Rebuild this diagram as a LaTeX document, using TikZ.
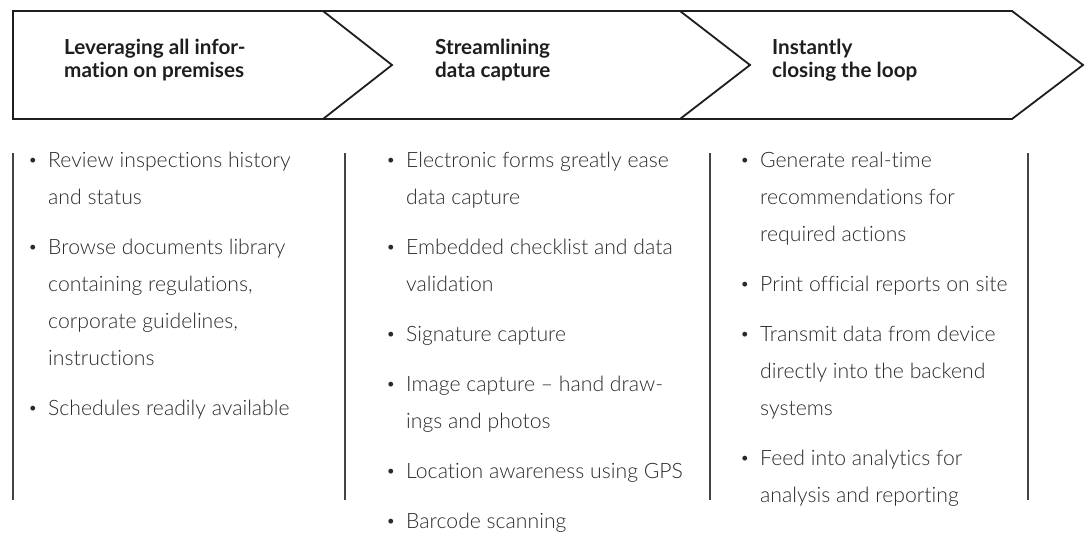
\documentclass[tikz,border=0pt]{standalone}
\usepackage{fontspec}
\setmainfont{Lato}[Ligatures={NoCommon}]
\newfontfamily\bodyfont{Lato Light}[Ligatures={NoCommon}]
\definecolor{ink}{HTML}{1E1E1E}
\definecolor{txt}{HTML}{2A2A2A}
\definecolor{rule}{HTML}{444444}
\begin{document}
\begin{tikzpicture}[x=1pt,y=-1pt,
  hdr/.style={draw=ink, line width=1.8pt, line join=miter},
  htext/.style={anchor=base west, inner sep=0pt, align=left, text=ink,
    font=\fontsize{20.7}{23}\selectfont\bfseries},
  itemtext/.style={anchor=base west, inner sep=0pt, align=left, text=txt,
    font=\bodyfont\fontsize{21.2}{37}\selectfont},
  bul/.style={anchor=center, inner sep=0pt, text=txt, font=\fontsize{13}{13}\selectfont},
  vrule/.style={draw=rule, line width=1.3pt}]
\useasboundingbox (0,0) rectangle (1090,538);

% header chevrons
\coordinate (tl) at (13,11);
\coordinate (bl) at (13,119);
\coordinate (t3) at (1012,11);
\coordinate (tip3) at (1083,65);
\coordinate (b3) at (1012,119);
\coordinate (t1) at (323,11);
\coordinate (tip1) at (392,65);
\coordinate (b1) at (323,119);
\coordinate (t2) at (680,11);
\coordinate (tip2) at (750,65);
\coordinate (b2) at (680,119);
\draw[hdr] (tl) -- (t3) -- (tip3) -- (b3) -- (bl) -- cycle;
\draw[hdr] (t1) -- (tip1) -- (b1);
\draw[hdr] (t2) -- (tip2) -- (b2);

% header texts (anchor = baseline of last line)
\node[htext] (h1) at (64,77) {Leveraging all infor-\\mation on premises};
\node[htext] (h2) at (435,77) {Streamlining\\data capture};
\node[htext] (h3) at (772,77) {Instantly\\closing the loop};

% column rules
\coordinate (r1t) at (13,153);  \coordinate (r1b) at (13,500);
\coordinate (r2t) at (345,153); \coordinate (r2b) at (345,500);
\coordinate (r3t) at (710,153); \coordinate (r3b) at (710,500);
\coordinate (r4t) at (1028,153);\coordinate (r4b) at (1028,500);
\draw[vrule] (r1t) -- (r1b);
\draw[vrule] (r2t) -- (r2b);
\draw[vrule] (r3t) -- (r3b);
\draw[vrule] (r4t) -- (r4b);

% column 1 (text nodes anchored at the baseline of their last line)
\node[bul] (b11) at (33,161) {•};
\node[itemtext] (i11) at (48,204) {Review inspections history\\and status};
\node[bul] (b12) at (33,248) {•};
\node[itemtext] (i12) at (48,365) {Browse documents library\\containing regulations,\\corporate guidelines,\\instructions};
\node[bul] (b13) at (33,409) {•};
\node[itemtext] (i13) at (48,415) {Schedules readily available};

% column 2
\node[bul] (b21) at (391,161) {•};
\node[itemtext] (i21) at (406,204) {Electronic forms greatly ease\\data capture};
\node[bul] (b22) at (391,248) {•};
\node[itemtext] (i22) at (406,291) {Embedded checklist and data\\validation};
\node[bul] (b23) at (391,335) {•};
\node[itemtext] (i23) at (406,341) {Signature capture};
\node[bul] (b24) at (391,385) {•};
\node[itemtext] (i24) at (406,428) {Image capture – hand draw-\\ings and photos};
\node[bul] (b25) at (391,472) {•};
\node[itemtext] (i25) at (406,478) {Location awareness using GPS};
\node[bul] (b26) at (391,522) {•};
\node[itemtext] (i26) at (406,528) {Barcode scanning};

% column 3
\node[bul] (b31) at (745,161) {•};
\node[itemtext] (i31) at (760,241) {Generate real-time\\recommendations for\\required actions};
\node[bul] (b32) at (745,285) {•};
\node[itemtext] (i32) at (760,291) {Print official reports on site};
\node[bul] (b33) at (745,335) {•};
\node[itemtext] (i33) at (760,415) {Transmit data from device\\directly into the backend\\systems};
\node[bul] (b34) at (745,459) {•};
\node[itemtext] (i34) at (760,502) {Feed into analytics for\\analysis and reporting};
\end{tikzpicture}
\end{document}
